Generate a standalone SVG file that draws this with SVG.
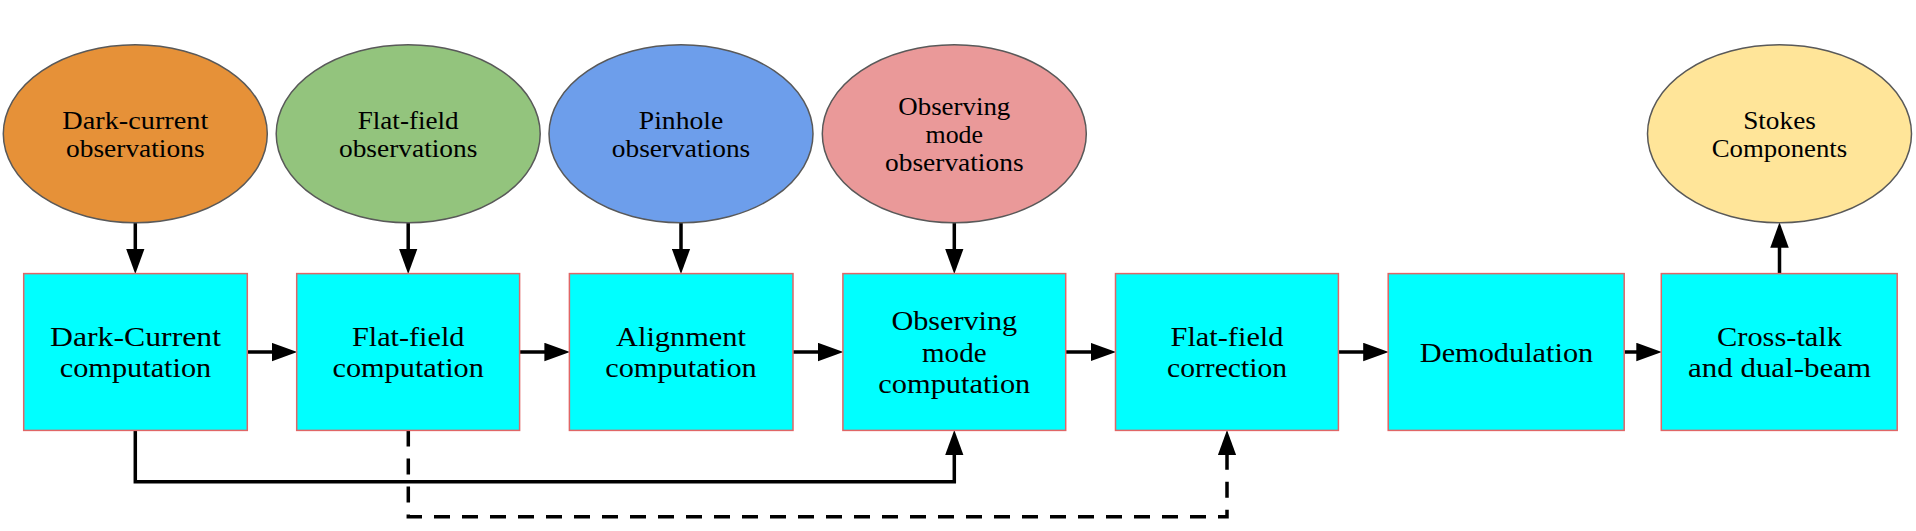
<svg xmlns="http://www.w3.org/2000/svg" width="1916" height="531" viewBox="0 0 1916 531">
<defs>
<style>
.ell{stroke:#595959;stroke-width:1.5}
.box{fill:#00ffff;stroke:#e06666;stroke-width:1.5}
.et{font-family:"Liberation Serif","Times New Roman",serif;font-size:24.5px;fill:#000;text-anchor:middle}
.bt{font-family:"Liberation Serif","Times New Roman",serif;font-size:28px;fill:#000;text-anchor:middle}
.c{fill:none;stroke:#000;stroke-width:3.5;marker-end:url(#ah)}
.d{stroke-dasharray:16 12}
</style>
<marker id="ah" markerUnits="userSpaceOnUse" markerWidth="26" markerHeight="19" refX="3" refY="9.25" orient="auto" viewBox="0 0 26 18.5">
<path d="M0,0 L25.5,9.25 L0,18.5 z" fill="#000"/>
</marker>
</defs>
<rect width="1916" height="531" fill="#fff"/>

<g id="connectors">
<path class="c" d="M135.3,222.8 V251.6"/>
<path class="c" d="M408.2,222.8 V251.6"/>
<path class="c" d="M681,222.8 V251.6"/>
<path class="c" d="M954.3,222.8 V251.6"/>
<path class="c" d="M1779.5,273.6 V244.8"/>
<path class="c" d="M247.3,352 H274.7"/>
<path class="c" d="M519.6,352 H547.4"/>
<path class="c" d="M793,352 H820.9"/>
<path class="c" d="M1065.7,352 H1093.5"/>
<path class="c" d="M1338.4,352 H1366.2"/>
<path class="c" d="M1624.2,352 H1639.3"/>
<path class="c" d="M135.3,430.4 V481.8 H954.3 V452.4"/>
<path class="c d" d="M408.3,430.4 V516.7 H1227 V452.4"/>
</g>

<g id="n-dark-obs">
<ellipse class="ell" cx="135.3" cy="133.8" rx="132" ry="89" fill="#e69138"/>
<text class="et" x="135.3" y="128.7" textLength="146" lengthAdjust="spacingAndGlyphs">Dark-current</text>
<text class="et" x="135.3" y="156.8" textLength="138.5" lengthAdjust="spacingAndGlyphs">observations</text>
</g>
<g id="n-flat-obs">
<ellipse class="ell" cx="408.2" cy="133.8" rx="132" ry="89" fill="#93c47d"/>
<text class="et" x="408.2" y="128.7" textLength="101" lengthAdjust="spacingAndGlyphs">Flat-field</text>
<text class="et" x="408.2" y="156.8" textLength="138.5" lengthAdjust="spacingAndGlyphs">observations</text>
</g>
<g id="n-pinhole-obs">
<ellipse class="ell" cx="681" cy="133.8" rx="132" ry="89" fill="#6d9eeb"/>
<text class="et" x="681" y="128.7" textLength="84.5" lengthAdjust="spacingAndGlyphs">Pinhole</text>
<text class="et" x="681" y="156.8" textLength="138.5" lengthAdjust="spacingAndGlyphs">observations</text>
</g>
<g id="n-obsmode-obs">
<ellipse class="ell" cx="954.3" cy="133.8" rx="132" ry="89" fill="#ea9999"/>
<text class="et" x="954.3" y="115" textLength="112" lengthAdjust="spacingAndGlyphs">Observing</text>
<text class="et" x="954.3" y="143" textLength="57.5" lengthAdjust="spacingAndGlyphs">mode</text>
<text class="et" x="954.3" y="170.7" textLength="138.5" lengthAdjust="spacingAndGlyphs">observations</text>
</g>
<g id="n-stokes">
<ellipse class="ell" cx="1779.5" cy="133.8" rx="132" ry="89" fill="#ffe599"/>
<text class="et" x="1779.5" y="128.7" textLength="72.7" lengthAdjust="spacingAndGlyphs">Stokes</text>
<text class="et" x="1779.5" y="156.8" textLength="135.5" lengthAdjust="spacingAndGlyphs">Components</text>
</g>

<g id="n-dark-comp">
<rect class="box" x="23.7" y="273.6" width="223.6" height="156.8"/>
<text class="bt" x="135.5" y="346" textLength="171" lengthAdjust="spacingAndGlyphs">Dark-Current</text>
<text class="bt" x="135.5" y="376.7" textLength="151.5" lengthAdjust="spacingAndGlyphs">computation</text>
</g>
<g id="n-flat-comp">
<rect class="box" x="296.7" y="273.6" width="222.9" height="156.8"/>
<text class="bt" x="408.2" y="346" textLength="112.5" lengthAdjust="spacingAndGlyphs">Flat-field</text>
<text class="bt" x="408.2" y="376.7" textLength="151.5" lengthAdjust="spacingAndGlyphs">computation</text>
</g>
<g id="n-align-comp">
<rect class="box" x="569.4" y="273.6" width="223.6" height="156.8"/>
<text class="bt" x="681" y="346" textLength="130" lengthAdjust="spacingAndGlyphs">Alignment</text>
<text class="bt" x="681" y="376.7" textLength="151.5" lengthAdjust="spacingAndGlyphs">computation</text>
</g>
<g id="n-obsmode-comp">
<rect class="box" x="842.9" y="273.6" width="222.8" height="156.8"/>
<text class="bt" x="954.3" y="330" textLength="125.8" lengthAdjust="spacingAndGlyphs">Observing</text>
<text class="bt" x="954.3" y="361.7" textLength="64.5" lengthAdjust="spacingAndGlyphs">mode</text>
<text class="bt" x="954.3" y="392.8" textLength="152" lengthAdjust="spacingAndGlyphs">computation</text>
</g>
<g id="n-flat-corr">
<rect class="box" x="1115.5" y="273.6" width="222.9" height="156.8"/>
<text class="bt" x="1227" y="346" textLength="113" lengthAdjust="spacingAndGlyphs">Flat-field</text>
<text class="bt" x="1227" y="376.7" textLength="120" lengthAdjust="spacingAndGlyphs">correction</text>
</g>
<g id="n-demod">
<rect class="box" x="1388.2" y="273.6" width="236" height="156.8"/>
<text class="bt" x="1506.5" y="361.7" textLength="173.5" lengthAdjust="spacingAndGlyphs">Demodulation</text>
</g>
<g id="n-crosstalk">
<rect class="box" x="1661.3" y="273.6" width="235.9" height="156.8"/>
<text class="bt" x="1779.5" y="346" textLength="125" lengthAdjust="spacingAndGlyphs">Cross-talk</text>
<text class="bt" x="1779.5" y="376.7" textLength="183" lengthAdjust="spacingAndGlyphs">and dual-beam</text>
</g>
</svg>
